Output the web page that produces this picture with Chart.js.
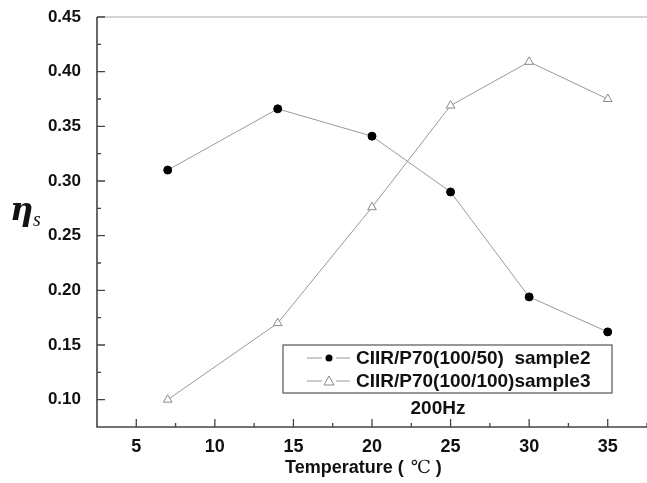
<!DOCTYPE html>
<html>
<head>
<meta charset="utf-8">
<script src="https://cdn.jsdelivr.net/npm/chart.js@4"></script>
<style>
  html, body { margin: 0; padding: 0; background: #fff; overflow: hidden; }
</style>
</head>
<body>
<canvas id="grafico" width="647" height="483"></canvas>
<script>
const temperaturas = [7, 14, 20, 25, 30, 35];
const sample2 = [0.310, 0.366, 0.341, 0.290, 0.194, 0.162];
const sample3 = [0.100, 0.170, 0.276, 0.369, 0.409, 0.375];
const etiquetas = ["CIIR/P70(100/50)  sample2", "CIIR/P70(100/100)sample3"];
const xTicks = [5, 10, 15, 20, 25, 30, 35];
const xMinor = [7.5, 12.5, 17.5, 22.5, 27.5, 32.5, 37.5];
const yTicks = [0.10, 0.15, 0.20, 0.25, 0.30, 0.35, 0.40, 0.45];
const yMinor = [0.125, 0.175, 0.225, 0.275, 0.325, 0.375, 0.425];

const fuente = "'Liberation Sans', Arial, sans-serif";

// ejes, marcas hacia adentro, leyenda y textos
const dibujo = {
    id: "dibujo",
    afterDraw(chart) {
        const { ctx, chartArea: a, scales: { x, y } } = chart;
        ctx.save();
        // borde superior
        ctx.strokeStyle = "#aaa";
        ctx.lineWidth = 1.2;
        ctx.beginPath();
        ctx.moveTo(a.left, a.top);
        ctx.lineTo(a.right, a.top);
        ctx.stroke();
        // ejes
        ctx.strokeStyle = "#444";
        ctx.lineWidth = 1.6;
        ctx.beginPath();
        ctx.moveTo(a.left, a.top);
        ctx.lineTo(a.left, a.bottom);
        ctx.lineTo(a.right, a.bottom);
        ctx.stroke();
        ctx.lineWidth = 1.3;
        ctx.beginPath();
        xTicks.forEach(v => { const p = x.getPixelForValue(v); ctx.moveTo(p, a.bottom); ctx.lineTo(p, a.bottom - 8); });
        xMinor.forEach(v => { const p = x.getPixelForValue(v); ctx.moveTo(p, a.bottom); ctx.lineTo(p, a.bottom - 4); });
        yTicks.forEach(v => { const p = y.getPixelForValue(v); ctx.moveTo(a.left, p); ctx.lineTo(a.left + 8, p); });
        yMinor.forEach(v => { const p = y.getPixelForValue(v); ctx.moveTo(a.left, p); ctx.lineTo(a.left + 4, p); });
        ctx.stroke();

        // titulo eje y
        ctx.fillStyle = "#111";
        ctx.textBaseline = "alphabetic";
        ctx.textAlign = "left";
        ctx.font = "italic bold 32px 'DejaVu Serif', 'Liberation Serif', serif";
        ctx.fillText("η", 10, 220);
        ctx.font = "italic 20px 'Liberation Serif', serif";
        ctx.fillText("s", 33, 226);

        // titulo eje x
        ctx.font = "bold 18px " + fuente;
        const t1 = "Temperature ( ";
        ctx.fillText(t1, 285, 473);
        let px = 285 + ctx.measureText(t1).width + 2;
        ctx.font = "18px 'Liberation Serif', 'DejaVu Serif', serif";
        ctx.fillText("℃", px, 473);
        px += ctx.measureText("℃").width;
        ctx.font = "bold 18px " + fuente;
        ctx.fillText(" )", px, 473);

        // leyenda
        const lx = 283, ly = 345, lw = 329, lh = 48;
        ctx.strokeStyle = "#555";
        ctx.lineWidth = 1.2;
        ctx.strokeRect(lx, ly, lw, lh);
        const filas = [358, 381];
        chart.data.datasets.forEach((ds, i) => {
            const fy = filas[i];
            ctx.strokeStyle = ds.borderColor;
            ctx.lineWidth = 1;
            ctx.beginPath();
            ctx.moveTo(307, fy); ctx.lineTo(350, fy);
            ctx.stroke();
            if (ds.pointStyle === "circle") {
                ctx.fillStyle = "#fff";
                ctx.fillRect(322, fy - 5, 14, 10);
                ctx.fillStyle = "#000";
                ctx.beginPath();
                ctx.arc(329, fy, 3.5, 0, Math.PI * 2);
                ctx.fill();
            } else {
                ctx.fillStyle = "#fff";
                ctx.fillRect(322, fy - 6, 14, 12);
                ctx.strokeStyle = "#888";
                ctx.beginPath();
                ctx.moveTo(329, fy - 5); ctx.lineTo(334, fy + 4); ctx.lineTo(324, fy + 4); ctx.closePath();
                ctx.stroke();
            }
            ctx.fillStyle = "#111";
            ctx.font = "bold 19px " + fuente;
            ctx.textBaseline = "middle";
            ctx.textAlign = "left";
            ctx.fillText(ds.label, 356, fy + 1);
        });
        ctx.textAlign = "center";
        ctx.fillText("200Hz", 438, 409);
        ctx.restore();
    }
};

new Chart(document.getElementById("grafico"), {
    type: "line",
    data: {
        datasets: [{
            label: etiquetas[0],
            data: temperaturas.map((t, i) => ({ x: t, y: sample2[i] })),
            borderColor: "#999",
            borderWidth: 1,
            pointStyle: "circle",
            pointRadius: 4,
            pointBackgroundColor: "#000",
            pointBorderColor: "#000",
            pointBorderWidth: 1
        }, {
            label: etiquetas[1],
            data: temperaturas.map((t, i) => ({ x: t, y: sample3[i] })),
            borderColor: "#999",
            borderWidth: 1,
            pointStyle: "triangle",
            pointRadius: 5,
            pointBackgroundColor: "#fff",
            pointBorderColor: "#888",
            pointBorderWidth: 1
        }]
    },
    options: {
        responsive: false,
        animation: false,
        clip: false,
        layout: { autoPadding: false, padding: { top: 17, right: 0, left: 0, bottom: 0 } },
        plugins: { legend: { display: false }, tooltip: { enabled: false } },
        scales: {
            x: {
                type: "linear",
                min: 2.5,
                max: 37.5,
                grid: { display: false },
                border: { display: false },
                afterBuildTicks: s => { s.ticks = xTicks.map(v => ({ value: v })); },
                afterFit: s => { s.height = 56; s.paddingRight = 0; s.paddingLeft = 0; },
                ticks: { color: "#111", font: { family: fuente, size: 18, weight: "bold" }, padding: 1, maxRotation: 0 }
            },
            y: {
                min: 0.075,
                max: 0.45,
                grid: { display: false },
                border: { display: false },
                afterBuildTicks: s => { s.ticks = yTicks.map(v => ({ value: v })); },
                afterFit: s => { s.width = 97; s.paddingTop = 0; s.paddingBottom = 0; s.paddingRight = 0; },
                ticks: { color: "#111", font: { family: fuente, size: 17, weight: "bold" }, padding: 8, callback: v => v.toFixed(2) }
            }
        }
    },
    plugins: [dibujo]
});
</script>
</body>
</html>
